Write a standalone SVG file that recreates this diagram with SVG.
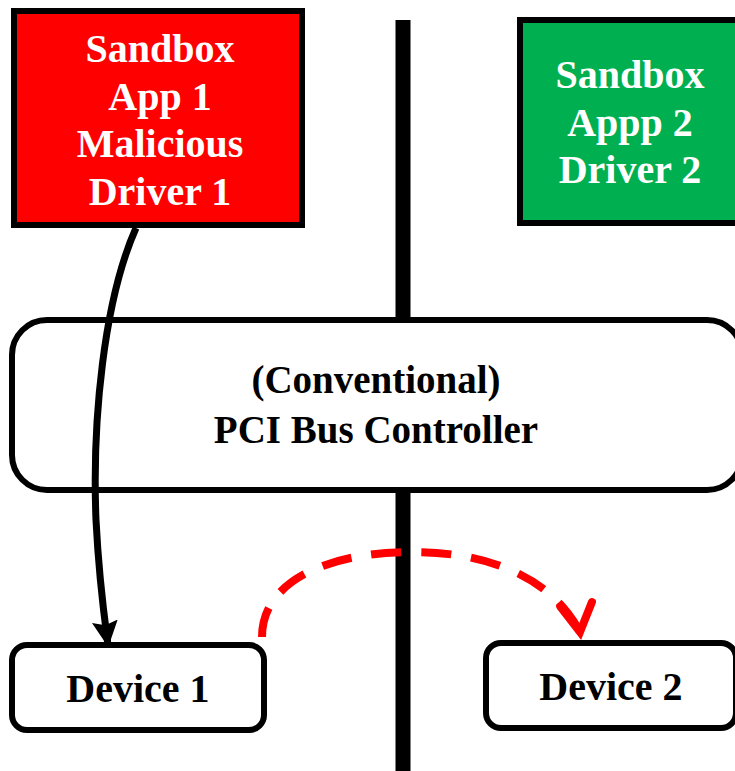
<svg xmlns="http://www.w3.org/2000/svg" width="735" height="771" viewBox="0 0 735 771">
  <style>
    .lbl { font-family: "Liberation Serif", "Times New Roman", serif; font-weight: bold; font-size: 40px; text-anchor: middle; }
    .white { fill: #ffffff; }
    .dark { fill: #000000; }
    .box { stroke: #000; stroke-width: 6; }
  </style>
  <defs>
    <marker id="head-solid" viewBox="0 0 26 26" markerWidth="26" markerHeight="26" refX="24" refY="13" orient="auto" markerUnits="userSpaceOnUse">
      <path d="M0,0 L26,13 L0,26 L4,13 Z" fill="#000"/>
    </marker>
    <marker id="head-open" viewBox="0 0 44 44" markerWidth="44" markerHeight="44" refX="34" refY="22" orient="82" markerUnits="userSpaceOnUse">
      <path d="M6,6 L34,22 L6,38" fill="none" stroke="#f00" stroke-width="8" stroke-linecap="round" stroke-linejoin="miter"/>
    </marker>
  </defs>

  <rect width="735" height="771" fill="#fff"/>

  <!-- isolation barrier between the two sandboxes -->
  <line id="barrier" x1="403" y1="20" x2="403" y2="771" stroke="#000" stroke-width="15"/>

  <g id="sandbox1">
    <rect class="box" x="14" y="11" width="288" height="214" fill="#ff0000"/>
    <text class="lbl white" x="160" y="62">Sandbox</text>
    <text class="lbl white" x="160" y="110">App 1</text>
    <text class="lbl white" x="160" y="157">Malicious</text>
    <text class="lbl white" x="160" y="205">Driver 1</text>
  </g>

  <g id="sandbox2">
    <rect class="box" x="520" y="20" width="230" height="203" fill="#00b050"/>
    <text class="lbl white" x="630" y="88">Sandbox</text>
    <text class="lbl white" x="630" y="136">Appp 2</text>
    <text class="lbl white" x="630" y="183">Driver 2</text>
  </g>

  <g id="pci-controller">
    <rect class="box" x="12" y="320" width="730" height="170" rx="35" ry="35" fill="#fff"/>
    <text class="lbl dark" x="376" y="393" style="font-size:39px">(Conventional)</text>
    <text class="lbl dark" x="376" y="443" style="font-size:39px">PCI Bus Controller</text>
  </g>

  <g id="device1">
    <rect class="box" x="12" y="645" width="252" height="85" rx="15" ry="15" fill="#fff"/>
    <text class="lbl dark" x="138" y="702">Device 1</text>
  </g>

  <g id="device2">
    <rect class="box" x="486" y="643" width="250" height="85" rx="15" ry="15" fill="#fff"/>
    <text class="lbl dark" x="611" y="700">Device 2</text>
  </g>

  <g id="connectors">
    <path d="M136,228 C104,300 92,420 96,520 C99,580 104,615 108,645" fill="none" stroke="#000" stroke-width="7" marker-end="url(#head-solid)"/>
    <path d="M262,637 C262,580 330,552 412,552 C485,552 550,575 580,632" fill="none" stroke="#f00" stroke-width="8" stroke-dasharray="30,20" marker-end="url(#head-open)"/>
  </g>
</svg>
